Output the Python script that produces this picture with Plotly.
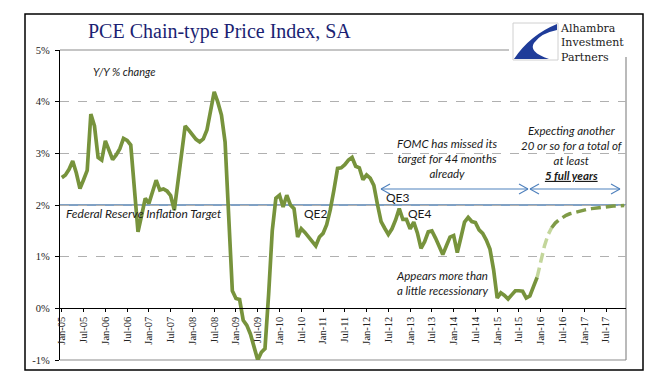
import plotly.graph_objects as go
import pandas as pd

# ---------------- DATA ----------------
months = [d.strftime("%b-%y") for d in pd.date_range("2005-01-01", "2017-12-01", freq="MS")]

tick_labels = ["Jan-05", "Jul-05", "Jan-06", "Jul-06", "Jan-07", "Jul-07", "Jan-08", "Jul-08",
               "Jan-09", "Jul-09", "Jan-10", "Jul-10", "Jan-11", "Jul-11", "Jan-12", "Jul-12",
               "Jan-13", "Jul-13", "Jan-14", "Jul-14", "Jan-15", "Jul-15", "Jan-16", "Jul-16",
               "Jan-17", "Jul-17"]

# PCE price index, Y/Y % change, Jan-05 .. Dec-15
pce_yoy = [
    2.53, 2.58, 2.69, 2.85, 2.62, 2.32, 2.49, 2.67, 3.76, 3.53, 2.92, 2.87,   # 2005
    3.24, 3.06, 2.88, 2.97, 3.09, 3.29, 3.25, 3.16, 2.40, 1.48, 1.80, 2.13,   # 2006
    2.03, 2.24, 2.48, 2.29, 2.31, 2.27, 2.18, 1.90, 2.45, 3.05, 3.53, 3.45,   # 2007
    3.36, 3.27, 3.22, 3.28, 3.45, 3.80, 4.19, 3.99, 3.74, 3.22, 1.78, 0.34,   # 2008
    0.19, 0.17, -0.23, -0.33, -0.50, -0.74, -1.00, -0.85, -0.78, 0.27, 1.50, 2.13,  # 2009
    2.19, 1.96, 2.19, 2.00, 1.93, 1.38, 1.54, 1.47, 1.38, 1.29, 1.21, 1.38,   # 2010
    1.45, 1.62, 1.91, 2.29, 2.71, 2.72, 2.78, 2.87, 2.92, 2.75, 2.72, 2.49,   # 2011
    2.58, 2.52, 2.38, 2.01, 1.68, 1.55, 1.43, 1.54, 1.71, 1.93, 1.72, 1.72,   # 2012
    1.54, 1.67, 1.46, 1.16, 1.29, 1.48, 1.50, 1.36, 1.20, 1.04, 1.21, 1.38,   # 2013
    1.41, 1.08, 1.37, 1.67, 1.76, 1.68, 1.66, 1.52, 1.45, 1.32, 1.15, 0.75,   # 2014
    0.20, 0.30, 0.25, 0.18, 0.26, 0.34, 0.34, 0.33, 0.20, 0.24, 0.42, 0.60,   # 2015
]

# Projection path, Dec-15 .. Dec-17
projection = [0.60, 0.90, 1.20, 1.42, 1.56, 1.65, 1.71, 1.76, 1.80, 1.83, 1.85, 1.87,
              1.89, 1.90, 1.92, 1.93, 1.94, 1.95, 1.96, 1.97, 1.97, 1.98, 1.98, 1.99, 1.99]
proj_split = 4   # first part of projection drawn in a lighter tone

fed_target = 2.0
y_ticks = [-1, 0, 1, 2, 3, 4, 5]
y_tick_text = ["-1%", "0%", "1%", "2%", "3%", "4%", "5%"]

# ---------------- LAYOUT HELPERS ----------------
W, H = 671, 375
ML, MR, MT, MB = 60, 45, 50, 15
PW, PH = W - ML - MR, H - MT - MB


def X(px):
    return (px - ML) / PW


def Y(py):
    return (H - MB - py) / PH


GREEN = "#77933C"
LIGHT_GREEN = "#C3D69B"
BLUE = "#4F81BD"
TXT = "#1a1a1a"
SANS = "Lato"
SERIF = "Liberation Serif"

n_act = len(pce_yoy)
proj_x = months[n_act - 1:n_act - 1 + len(projection)]

fig = go.Figure()

fig.add_trace(go.Scatter(
    x=proj_x[:proj_split + 1], y=projection[:proj_split + 1], mode="lines",
    line=dict(color=LIGHT_GREEN, width=3.5, dash="10px,5px"), hoverinfo="skip"))
fig.add_trace(go.Scatter(
    x=proj_x[proj_split:], y=projection[proj_split:], mode="lines",
    line=dict(color="#7F9B47", width=3.5, dash="10px,5px"), hoverinfo="skip"))
fig.add_trace(go.Scatter(
    x=months[:n_act], y=pce_yoy, mode="lines",
    line=dict(color=GREEN, width=3.7), hoverinfo="skip"))

shapes = []
# Fed target line
shapes.append(dict(type="line", xref="paper", yref="y", x0=0, x1=1, y0=fed_target, y1=fed_target,
                   line=dict(color="#5682B0", width=1.3), layer="below"))
# plot border (top, bottom, right) in grey
for (x0, y0, x1, y1) in [(0, 1, 1, 1), (0, 0, 1, 0), (1, 0, 1, 1)]:
    shapes.append(dict(type="line", xref="paper", yref="paper", x0=x0, y0=y0, x1=x1, y1=y1,
                       line=dict(color="#8c8c8c", width=1.2), layer="below"))
# outer frame
shapes.append(dict(type="rect", xref="paper", yref="paper", x0=X(25), x1=X(643), y0=Y(370), y1=Y(14),
                   line=dict(color="black", width=1.5)))
# logo white background
shapes.append(dict(type="rect", xref="paper", yref="paper", x0=X(509), x1=X(641), y0=Y(57), y1=Y(19),
                   fillcolor="white", line=dict(width=0), layer="above"))
shapes.append(dict(type="rect", xref="paper", yref="paper", x0=X(513), x1=X(558), y0=Y(60), y1=Y(23),
                   line=dict(color="#d0d0d0", width=1), layer="above"))


def P(px, py):
    return f"{X(px):.5f},{Y(py):.5f}"


logo_path = ("M " + P(557, 24) + " Q " + P(530, 35) + " " + P(514, 59) + " L " + P(549, 59) +
             " Q " + P(528, 52) + " " + P(534, 43) + " Q " + P(541, 33) + " " + P(557, 30) + " Z")
shapes.append(dict(type="path", xref="paper", yref="paper", path=logo_path,
                   fillcolor="#1F3C99", line=dict(width=0), layer="above"))

# arrows with open chevron heads
AC = dict(color=BLUE, width=1.1)
for (xa, xb) in [(381, 528), (530, 620)]:
    shapes.append(dict(type="line", xref="paper", yref="paper", x0=X(xa), x1=X(xb), y0=Y(189), y1=Y(189), line=AC))
for tip, d in [(381, 1), (528, -1), (530, 1), (620, -1)]:
    for dy in (-5, 5):
        shapes.append(dict(type="line", xref="paper", yref="paper", x0=X(tip), y0=Y(189),
                           x1=X(tip + 9 * d), y1=Y(189 + dy), line=AC))

ann = []


def A(text, px, py, size=11.5, xanchor="left", font=SANS, color=TXT, align="left"):
    ann.append(dict(text=text, x=X(px), y=Y(py), xref="paper", yref="paper", showarrow=False,
                    xanchor=xanchor, yanchor="middle", align=align,
                    font=dict(family=font, size=size, color=color)))


A("PCE Chain-type Price Index, SA", 219, 31, size=20, xanchor="center", font=SERIF, color="#1B1F73")
A("Alhambra<br>Investment<br>Partners", 558, 43, size=11, font="DejaVu Serif", color="#1a1a1a")
A("<i>Y/Y % change</i>", 91, 72, size=11)
A("<i>Federal Reserve Inflation Target</i>", 64, 213, size=12)
A("QE2", 302, 213, size=12)
A("QE3", 384, 197, size=12)
A("QE4", 406, 213, size=12)
A("<i>FOMC has missed its<br>target for 44 months<br>already</i>", 447, 158, size=11.5,
  xanchor="center", align="center")
A("<i>Expecting another<br>20 or so for a total of<br>at least<br><b><u>5 full years</u></b></i>", 572, 153,
  size=11.5, xanchor="center", align="center")
A("<i>Appears more than<br>a little recessionary</i>", 442, 283, size=11.5, xanchor="center", align="center")

fig.update_layout(
    width=W, height=H, margin=dict(l=ML, r=MR, t=MT, b=MB, autoexpand=False),
    paper_bgcolor="white", plot_bgcolor="white", showlegend=False,
    shapes=shapes, annotations=ann,
    xaxis=dict(type="category", categoryorder="array", categoryarray=months,
               range=[-0.5, len(months) - 0.5], automargin=False,
               tickmode="array", tickvals=tick_labels, ticktext=tick_labels,
               tickangle=-90, tickfont=dict(family=SERIF, size=10.5, color="#222222"),
               showline=True, linecolor="black", linewidth=1.3,
               ticks="outside", ticklen=3, tickcolor="black",
               showgrid=False, zeroline=False,
               anchor="free", position=(0 - y_ticks[0]) / (y_ticks[-1] - y_ticks[0])),
    yaxis=dict(range=[y_ticks[0], y_ticks[-1]], tickmode="array", tickvals=y_ticks, ticktext=y_tick_text,
               automargin=False,
               tickfont=dict(family=SERIF, size=10.5, color="#222222"),
               showline=True, linecolor="black", linewidth=1.3,
               ticks="outside", ticklen=4, tickcolor="black", ticklabelstandoff=3,
               showgrid=True, gridcolor="#b0b0b0", gridwidth=0.8, griddash="dash",
               zeroline=False),
)

fig.write_html("out.html", config={"displayModeBar": False},
               post_script="document.body.style.margin='0px';document.body.style.overflow='hidden';")
